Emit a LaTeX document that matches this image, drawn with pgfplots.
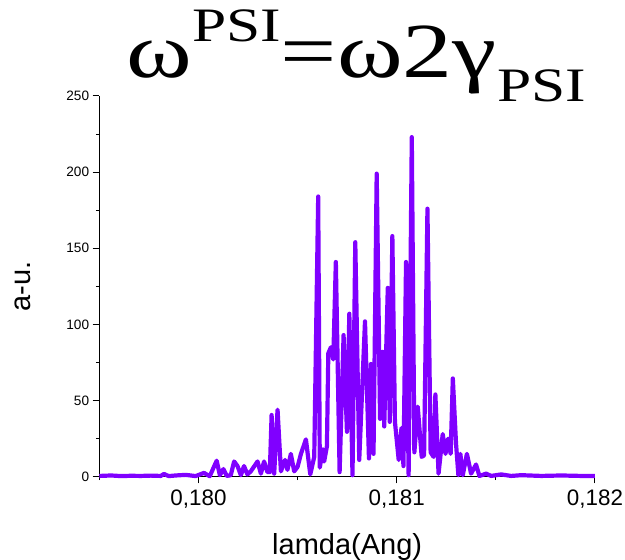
\documentclass[border=0pt]{standalone}
\usepackage{fontspec}
\setmainfont{Liberation Sans}
\newfontfamily\titlefont{Liberation Serif}
\usepackage{pgfplots}
\pgfplotsset{compat=1.18}
\definecolor{lineviolet}{RGB}{128,0,255}
\begin{document}
\begin{tikzpicture}
\useasboundingbox (0,0) rectangle (625pt,560pt);
\begin{axis}[
  at={(99.3pt,83.3pt)}, anchor=south west,
  scale only axis, width=495.7pt, height=380.7pt,
  xmin=0.1795, xmax=0.182, ymin=0, ymax=250,
  axis x line*=bottom, axis y line*=left,
  axis line style={line width=1pt},
  tick align=outside,
  major tick length=6.7pt, minor tick length=3.4pt,
  every tick/.style={black, line width=1pt},
  scaled x ticks=false,
  xtick={0.180,0.181,0.182},
  xticklabels={{0,180},{0,181},{0,182}},
  minor xtick={0.1795,0.1805,0.1815},
  ytick={0,50,100,150,200,250},
  minor ytick={25,75,125,175,225},
  /pgf/number format/assume math mode=true,
  xticklabel style={font=\fontsize{22.4}{26}\selectfont, yshift=-3pt},
  yticklabel style={font=\fontsize{13.6}{16}\selectfont},
  xlabel={lamda(Ang)},
  ylabel={a-u.},
  label style={font=\fontsize{29}{34}\selectfont},
  xlabel style={at={(axis description cs:0.5,0)}, anchor=base, yshift=-78.3pt},
  ylabel style={at={(axis description cs:-0.1378,0.5)}, anchor=base},
  title={\titlefont\scalebox{1.28}[1]{\fontsize{78}{84}\selectfont ω\raisebox{36pt}{\fontsize{48}{52}\selectfont PSI}=ω2γ\raisebox{-24pt}{\fontsize{48}{52}\selectfont PSI}}},
  title style={at={(axis description cs:0.5,1)}, anchor=base, yshift=12pt, xshift=9pt},
  clip=false,
]
\addplot[color=lineviolet, line width=4.2pt, line join=round] table {
x y
0.17950 0.5
0.17956 0.8
0.17961 0.4
0.17966 0.6
0.17971 0.5
0.17976 0.7
0.17981 0.5
0.179826 1.8
0.17985 0.4
0.179885 0.8
0.179936 1.2
0.179986 0.4
0.180028 2.5
0.180057 0.3
0.180092 10.5
0.180108 1
0.180126 5
0.180143 0.5
0.180163 1
0.180180 10
0.180197 7
0.180214 1
0.180230 7
0.180247 1.5
0.180264 3.5
0.180298 10
0.180315 2
0.180331 10
0.180348 3
0.180360 3
0.180369 40.5
0.180382 2
0.180399 44
0.180416 3.5
0.180437 11
0.180449 4.5
0.180466 15
0.180483 3.5
0.180500 6.5
0.180517 15
0.180542 24.5
0.180564 1.5
0.180584 13
0.180604 184
0.180612 6
0.180628 18
0.180634 10
0.180648 20
0.180655 81
0.180668 85
0.180680 77
0.180693 141
0.180712 3
0.180732 93
0.180749 29.5
0.180761 107
0.180777 1
0.180791 154
0.180811 11
0.180840 102
0.180860 12
0.180870 74
0.180883 15
0.180899 199
0.180916 38
0.180929 82
0.180937 33
0.180955 124
0.180965 36
0.180978 158
0.180991 36
0.181010 11
0.181024 32
0.181034 7
0.181047 141
0.181060 1
0.181076 223
0.181089 16
0.181106 46
0.181126 13
0.181138 14
0.181155 176
0.181171 16
0.181186 13
0.181195 54
0.181211 2
0.181232 28
0.181246 15
0.181259 25
0.181272 15
0.181283 64.5
0.181299 22
0.181311 1
0.181321 15
0.181333 1
0.181354 15
0.181375 2
0.181400 8
0.181417 0.5
0.181451 2
0.181476 0.5
0.181527 1.5
0.181577 0.5
0.181628 1
0.181729 0.5
0.181830 0.8
0.181931 0.5
0.182000 0.5
};
\end{axis}
\end{tikzpicture}
\end{document}
